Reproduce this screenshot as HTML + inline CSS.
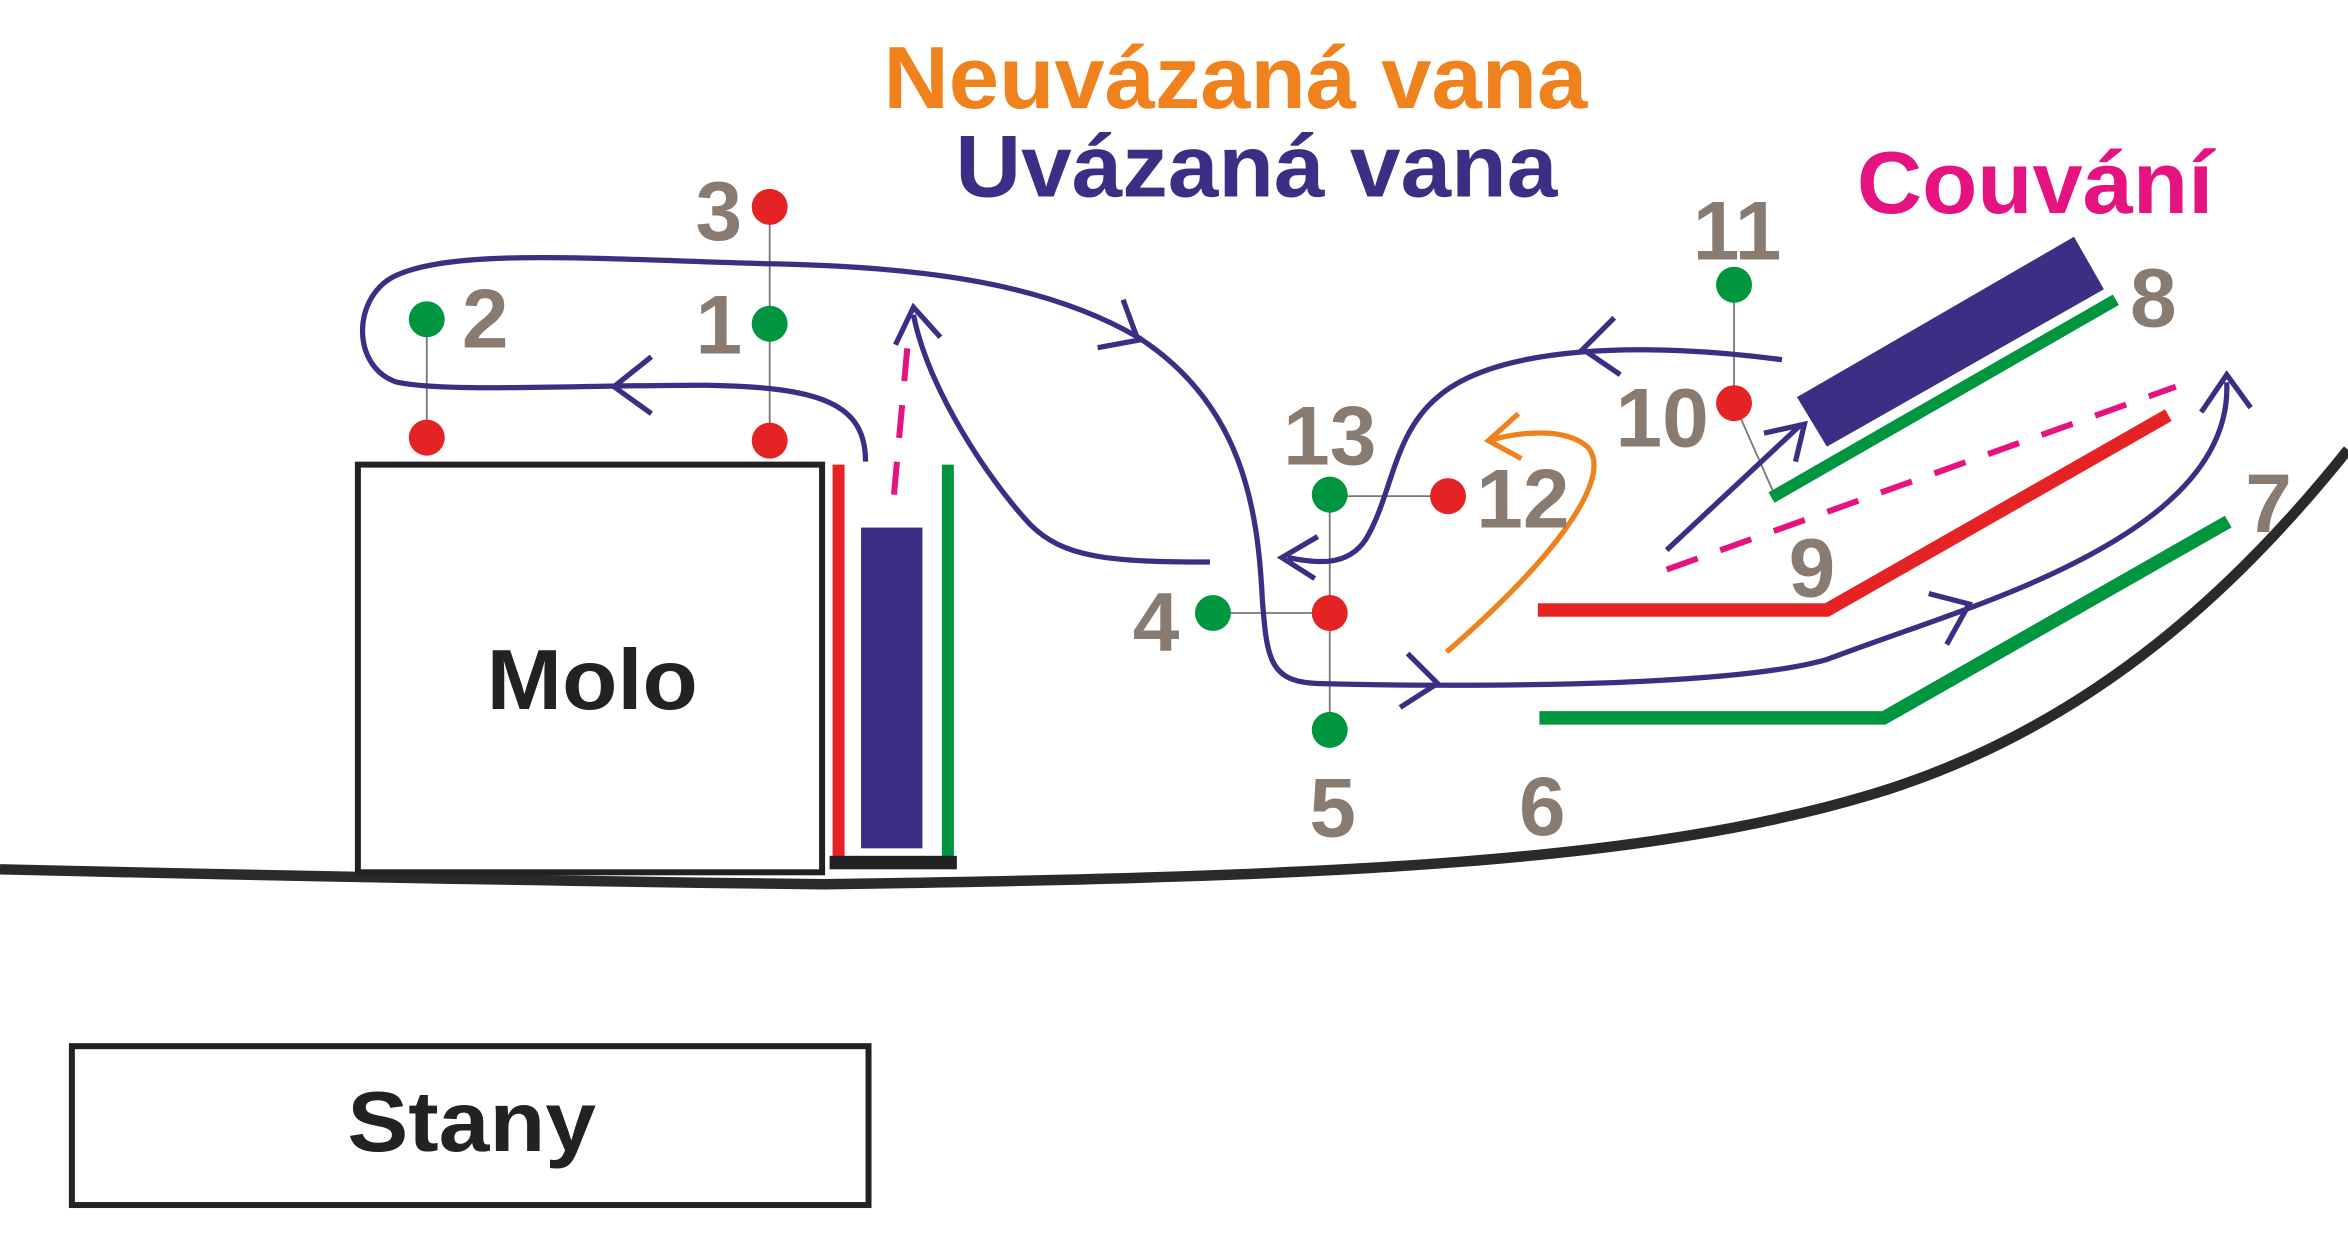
<!DOCTYPE html>
<html><head><meta charset="utf-8"><style>
html,body{margin:0;padding:0;background:#fff;}
svg{display:block;}
text{font-family:"Liberation Sans",sans-serif;font-weight:bold;}
</style></head><body>
<svg width="2348" height="1256" viewBox="0 0 1568 838" preserveAspectRatio="none">
<rect width="1568" height="838" fill="#fff"/>
<!-- titles -->
<text x="590" y="72" font-size="59" fill="#f0821e" textLength="470" lengthAdjust="spacingAndGlyphs">Neuvázaná vana</text>
<text x="638" y="131" font-size="59" fill="#3b2f85" textLength="402" lengthAdjust="spacingAndGlyphs">Uvázaná vana</text>
<text x="1240" y="142" font-size="59" fill="#e5137f" textLength="238" lengthAdjust="spacingAndGlyphs">Couvání</text>
<!-- ground -->
<path d="M0,580 Q300,587 550,590 C900,585 1100,575 1250,530 C1400,485 1500,385 1568,300" fill="none" stroke="#2a2a2a" stroke-width="7"/>
<!-- molo -->
<rect x="239" y="310" width="310" height="272" fill="#fff" stroke="#222" stroke-width="4"/>
<text x="325" y="473" font-size="57" fill="#222" textLength="141" lengthAdjust="spacingAndGlyphs">Molo</text>
<rect x="48" y="698" width="532" height="106" fill="#fff" stroke="#222" stroke-width="4"/>
<text x="232" y="768" font-size="57" fill="#222" textLength="166" lengthAdjust="spacingAndGlyphs">Stany</text>
<!-- dock -->
<line x1="560" y1="310" x2="560" y2="572" stroke="#e52325" stroke-width="8"/>
<rect x="575" y="352" width="41" height="214" fill="#3b2f85"/>
<line x1="633" y1="310" x2="633" y2="572" stroke="#00963f" stroke-width="8"/>
<rect x="554" y="571" width="85" height="9" fill="#222"/>
<!-- thin gray connectors -->
<g stroke="#777" stroke-width="1.2">
<line x1="514" y1="138" x2="514" y2="294"/>
<line x1="285" y1="213" x2="285" y2="292"/>
<line x1="888" y1="330" x2="888" y2="487"/>
<line x1="888" y1="331" x2="967" y2="331"/>
<line x1="810" y1="409" x2="888" y2="409"/>
<line x1="1158" y1="190" x2="1158" y2="269"/>
<line x1="1158" y1="269" x2="1185" y2="330"/>
</g>
<!-- right side bars -->
<polygon points="1200,265 1385,158 1405,193 1220,298" fill="#3b2f85"/>
<line x1="1183" y1="332" x2="1413" y2="200" stroke="#00963f" stroke-width="8"/>
<line x1="1113" y1="380" x2="1453" y2="258" stroke="#e5137f" stroke-width="4" stroke-dasharray="22,16"/>
<polyline points="1027,407 1220,407 1448,277" fill="none" stroke="#e52325" stroke-width="9"/>
<polyline points="1028,479 1258,479 1488,348" fill="none" stroke="#00963f" stroke-width="9"/>
<!-- magenta dashed vertical -->
<line x1="597" y1="330" x2="607" y2="220" stroke="#e5137f" stroke-width="4" stroke-dasharray="22,16"/>
<!-- blue paths -->
<g fill="none" stroke="#3b2f85" stroke-width="3.5">
<path d="M578,308 C578,270 550,258 470,257 C380,257 300,262 265,255 C235,245 235,200 262,185 C300,165 400,173 514,176 C620,178 700,190 760,225 C830,270 840,340 843,400 C846,440 848,455 880,456 C950,458 1150,460 1220,440 C1260,425 1300,412 1330,400 C1420,365 1490,320 1487,255"/>
<path d="M808,375 C740,375 710,372 688,350 C660,320 620,260 610,210"/>
<path d="M1190,240 C1100,228 1000,230 960,265 C930,290 930,330 912,360 C900,378 880,376 860,372"/>
<line x1="1113" y1="367" x2="1203" y2="283"/>
<!-- chevrons -->
<polyline points="435,238 410,258 435,276"/>
<polyline points="733,232 760,227 750,200"/>
<polyline points="940,436 960,456 935,472"/>
<polyline points="1288,396 1315,403 1300,430"/>
<polyline points="1470,275 1487,250 1503,272"/>
<polyline points="598,230 610,205 628,225"/>
<polyline points="880,358 856,372 878,386"/>
<polyline points="1078,212 1057,233 1082,250"/>
<polyline points="1178,289 1205,283 1199,308"/>
</g>
<!-- orange -->
<g fill="none" stroke="#f0821e" stroke-width="3.5">
<path d="M966,435 C1030,380 1080,320 1060,298 C1045,285 1015,288 994,294"/>
<polyline points="1014,276 994,294 1016,306"/>
</g>
<!-- dots -->
<g>
<circle cx="285" cy="213" r="12" fill="#00963f"/>
<circle cx="285" cy="292" r="12" fill="#e52325"/>
<circle cx="514" cy="138" r="12" fill="#e52325"/>
<circle cx="514" cy="216" r="12" fill="#00963f"/>
<circle cx="514" cy="294" r="12" fill="#e52325"/>
<circle cx="888" cy="330" r="12" fill="#00963f"/>
<circle cx="967" cy="331" r="12" fill="#e52325"/>
<circle cx="810" cy="409" r="12" fill="#00963f"/>
<circle cx="888" cy="409" r="12" fill="#e52325"/>
<circle cx="888" cy="487" r="12" fill="#00963f"/>
<circle cx="1158" cy="190" r="12" fill="#00963f"/>
<circle cx="1158" cy="269" r="12" fill="#e52325"/>
</g>
<!-- labels -->
<g fill="#8a7b70" font-size="56" text-anchor="middle">
<text x="480" y="160">3</text>
<text x="324" y="232">2</text>
<text x="480" y="236">1</text>
<text x="888" y="310">13</text>
<text x="1017" y="352">12</text>
<text x="772" y="434">4</text>
<text x="890" y="558">5</text>
<text x="1030" y="557">6</text>
<text x="1160" y="173">11</text>
<text x="1110" y="298">10</text>
<text x="1210" y="398">9</text>
<text x="1438" y="218">8</text>
<text x="1515" y="355">7</text>
</g>
</svg>
</body></html>
